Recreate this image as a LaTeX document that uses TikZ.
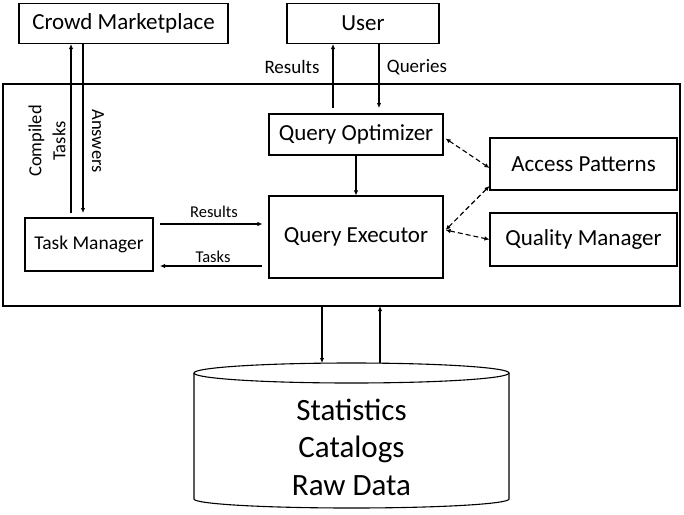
\documentclass[tikz,border=0pt]{standalone}
\usepackage{fontspec}
\setmainfont{Carlito}
\usetikzlibrary{arrows.meta,calc}
\begin{document}
\begin{tikzpicture}[x=1pt,y=-1pt,
  every path/.style={line width=1.1pt},
  box/.style={draw,rectangle,inner sep=0pt,align=center,font=\fontsize{23}{26}\selectfont},
  arr/.style={-{Latex[length=5pt,width=4.5pt]}},
  darr/.style={{Latex[length=5pt,width=4.5pt]}-{Latex[length=5pt,width=4.5pt]},dashed,dash pattern=on 5pt off 3pt},
  lbl/.style={font=\fontsize{19}{20}\selectfont,inner sep=1pt},
  slbl/.style={font=\fontsize{16.5}{18}\selectfont,inner sep=1pt}]
\useasboundingbox (0,0) rectangle (684,514);

% system frame
\draw (3,84) rectangle (680,306);

% boxes
\node[box,minimum width=209pt,minimum height=40pt] (crowd) at (123.5,23.5) {Crowd Marketplace};
\node[box,minimum width=152pt,minimum height=40pt] (user) at (363,23.5) {User};
\node[box,minimum width=174pt,minimum height=41pt] (qo) at (356,134.5) {Query Optimizer};
\node[box,minimum width=174pt,minimum height=82pt] (qe) at (356,237) {Query Executor};
\node[box,minimum width=187pt,minimum height=52pt] (ap) at (583.5,164) {Access Patterns};
\node[box,minimum width=187pt,minimum height=53pt] (qm) at (583.5,239.5) {Quality Manager};
\node[box,minimum width=128pt,minimum height=53pt,font=\fontsize{19.5}{22}\selectfont] (tm) at (89,244.5) {Task Manager};

% data store
\draw (194,373) -- (194,499) arc[start angle=180,end angle=0,x radius=157.5,y radius=9] -- (509,373);
\draw (351.5,373) ellipse[x radius=157.5,y radius=10];
\node[font=\fontsize{31}{37.5}\selectfont,align=center] (db) at (351.5,447) {Statistics\\Catalogs\\Raw Data};

% crowd marketplace link
\coordinate (tmA) at (71,213);
\coordinate (tmB) at (83,213);
\draw[arr] (tmA) -- (tmA |- crowd.south);
\draw[arr] (tmB |- crowd.south) -- (tmB);
\node[lbl,rotate=90,align=center,font=\fontsize{18.5}{24}\selectfont] (ct) at (47,141) {Compiled\\Tasks};
\node[lbl,rotate=-90,font=\fontsize{18.5}{20}\selectfont] (ans) at (98,141) {Answers};

% user link
\coordinate (qoR) at (333,108);
\coordinate (qoQ) at (379,108);
\draw[arr] (qoR) -- (qoR |- user.south);
\draw[arr] (qoQ |- user.south) -- (qoQ);
\node[lbl] (ures) at (292,67) {Results};
\node[lbl] (uq) at (417,67) {Queries};

% optimizer to executor
\draw[arr] (qo) -- (qe);

% task manager link
\coordinate (tmR) at (160,224);
\coordinate (tmT) at (160,266);
\draw[arr] (tmR) -- ([xshift=-6pt]tmR -| qe.west);
\draw[arr] ([xshift=-6pt]tmT -| qe.west) -- (tmT);
\node[slbl] (tres) at (214,212) {Results};
\node[slbl] (ttask) at (213,257) {Tasks};

% dashed links
\draw[darr] ([xshift=2pt,yshift=-4pt]qo.east) -- ([yshift=-4pt]ap.west);
\draw[darr] ([xshift=2pt,yshift=7pt]qe.east) -- ([yshift=-22pt]ap.west);
\draw[darr] ([xshift=2pt,yshift=7pt]qe.east) -- (qm.west);

% storage link
\coordinate (dbD) at (322,363);
\coordinate (dbU) at (380,363);
\draw[arr] (dbD |- 0,306) -- (dbD);
\draw[arr] (dbU) -- (dbU |- 0,306);
\end{tikzpicture}
\end{document}
